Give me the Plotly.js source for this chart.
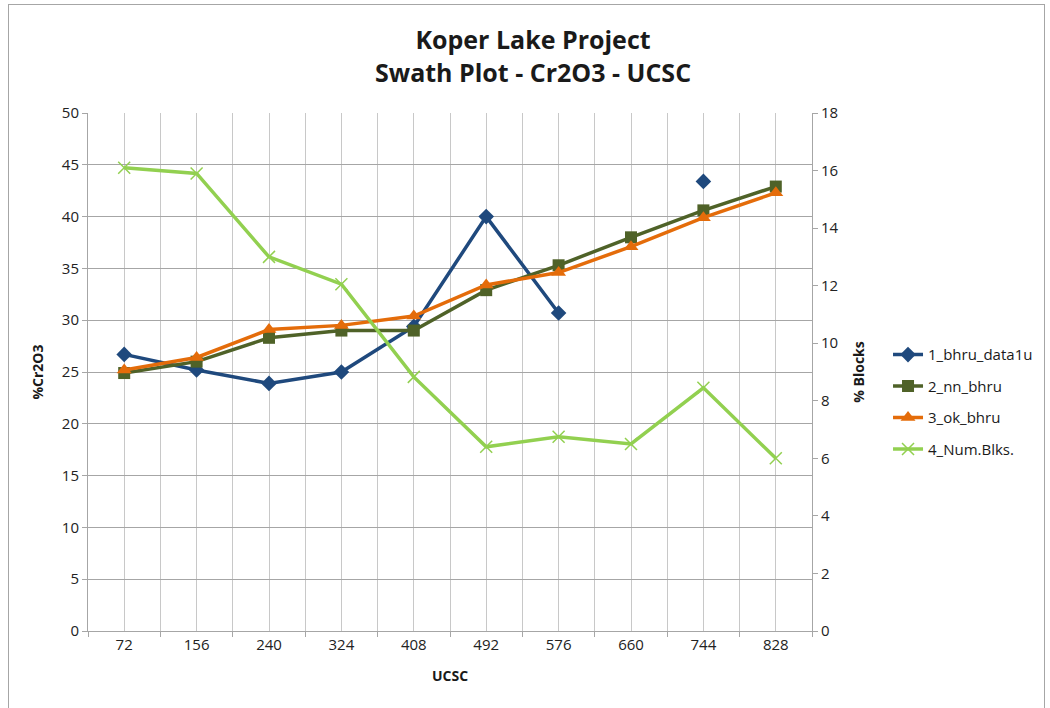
<!DOCTYPE html>
<html><head><meta charset="utf-8">
<script src="https://cdn.plot.ly/plotly-3.0.1.min.js"></script>
<style>
html,body{margin:0;padding:0;background:#fff;}
#frame{position:absolute;left:8px;top:4px;width:1037px;height:720px;border:1px solid #a6a6a6;box-sizing:border-box;}
#chart{position:absolute;left:0;top:0;width:1050px;height:708px;}
</style></head>
<body>
<div id="frame"></div>
<div id="chart"></div>
<script>
const categories = ["72","156","240","324","408","492","576","660","744","828"];
const bhruData1u = [26.7, 25.2, 23.9, 25.0, 29.4, 40.0, 30.7, null, 43.4, null];
const nnBhru = [24.9, 26.0, 28.3, 29.0, 29.0, 32.9, 35.3, 38.0, 40.6, 42.9];
const okBhru = [25.2, 26.4, 29.1, 29.5, 30.4, 33.4, 34.6, 37.1, 39.9, 42.3];
const numBlks = [16.1, 15.9, 13.0, 12.05, 8.83, 6.4, 6.75, 6.5, 8.45, 6.0];
const seriesNames = ["1_bhru_data1u","2_nn_bhru","3_ok_bhru","4_Num.Blks."];
const titleText = "<b>Koper Lake Project<br>Swath Plot - Cr2O3 - UCSC</b>";

const idx = categories.map((_, i) => i);
const font = "Open Sans, Liberation Sans, sans-serif";

const traces = [
  {x: idx, y: bhruData1u, name: seriesNames[0], legendgroup: 'g1', type: 'scatter', mode: 'lines+markers',
   connectgaps: false, line: {color: '#1f497d', width: 3.5},
   marker: {symbol: 'diamond', size: 12, color: '#1f497d'}},
  {x: idx, y: nnBhru, name: seriesNames[1], legendgroup: 'g2', type: 'scatter', mode: 'lines+markers',
   line: {color: '#4f6228', width: 3.5},
   marker: {symbol: 'square', size: 12, color: '#4f6228'}},
  {x: idx, y: okBhru, name: seriesNames[2], legendgroup: 'g3', type: 'scatter', mode: 'lines+markers',
   line: {color: '#e46c0a', width: 3.5},
   marker: {symbol: 'triangle-up', size: 13, color: '#e46c0a'}},
  {x: idx, y: numBlks, name: seriesNames[3], legendgroup: 'g4', type: 'scatter', mode: 'lines+markers', yaxis: 'y2',
   line: {color: '#92d050', width: 3.5},
   marker: {symbol: 'x-thin-open', size: 12, color: '#92d050', line: {color: '#92d050', width: 1.5}}}
];

const halfTicks = [];
for (let i = 0; i <= categories.length; i++) halfTicks.push(i - 0.5);

const layout = {
  width: 1050, height: 708,
  margin: {l: 88, r: 238, t: 113, b: 77},
  paper_bgcolor: 'rgba(0,0,0,0)', plot_bgcolor: '#fff',
  font: {family: font, color: '#222', size: 15},
  annotations: [{text: titleText, xref: 'paper', yref: 'paper',
    x: (533 - 88) / 724, y: (631 - 20) / 518, xanchor: 'center', yanchor: 'top',
    showarrow: false, font: {family: font, size: 25, color: '#1a1a1a'}}],
  xaxis: {
    range: [-0.5, categories.length - 0.5],
    tickmode: 'array', tickvals: idx, ticktext: categories, ticks: '',
    showgrid: true, gridcolor: '#c8c8c8', gridwidth: 1,
    zeroline: false, showline: true, linecolor: '#a6a6a6', linewidth: 1,
    minor: {tickmode: 'array', tickvals: halfTicks, showgrid: true, gridcolor: '#c8c8c8', gridwidth: 1,
      ticks: 'outside', ticklen: 5, tickcolor: '#a6a6a6'},
    tickfont: {size: 15, color: '#222'},
    title: {text: '<b>UCSC</b>', font: {size: 14, color: '#1a1a1a'}, standoff: 18}
  },
  yaxis: {
    range: [0, 50], dtick: 5, tick0: 0,
    showgrid: true, gridcolor: '#a6a6a6', gridwidth: 1,
    zeroline: false, showline: true, linecolor: '#a6a6a6', linewidth: 1,
    ticks: 'outside', ticklen: 5, tickcolor: '#a6a6a6',
    tickfont: {size: 15, color: '#222'},
    title: {text: '<b>%Cr2O3</b>', font: {size: 14, color: '#1a1a1a'}, standoff: 14}
  },
  yaxis2: {
    range: [0, 18], dtick: 2, tick0: 0, overlaying: 'y', side: 'right',
    showgrid: false, zeroline: false, showline: true, linecolor: '#a6a6a6', linewidth: 1,
    ticks: 'outside', ticklen: 5, tickcolor: '#a6a6a6',
    tickfont: {size: 15, color: '#222'},
    title: {text: '<b>% Blocks</b>', font: {size: 14, color: '#1a1a1a'}, standoff: 16}
  },
  legend: {x: 1.105, y: 0.565, xanchor: 'left', yanchor: 'top',
    font: {size: 15, color: '#1a1a1a'}, bgcolor: 'rgba(0,0,0,0)', tracegroupgap: 9, itemwidth: 30},
  showlegend: true
};

Plotly.newPlot('chart', traces, layout, {displayModeBar: false, staticPlot: true});
</script>
</body></html>
